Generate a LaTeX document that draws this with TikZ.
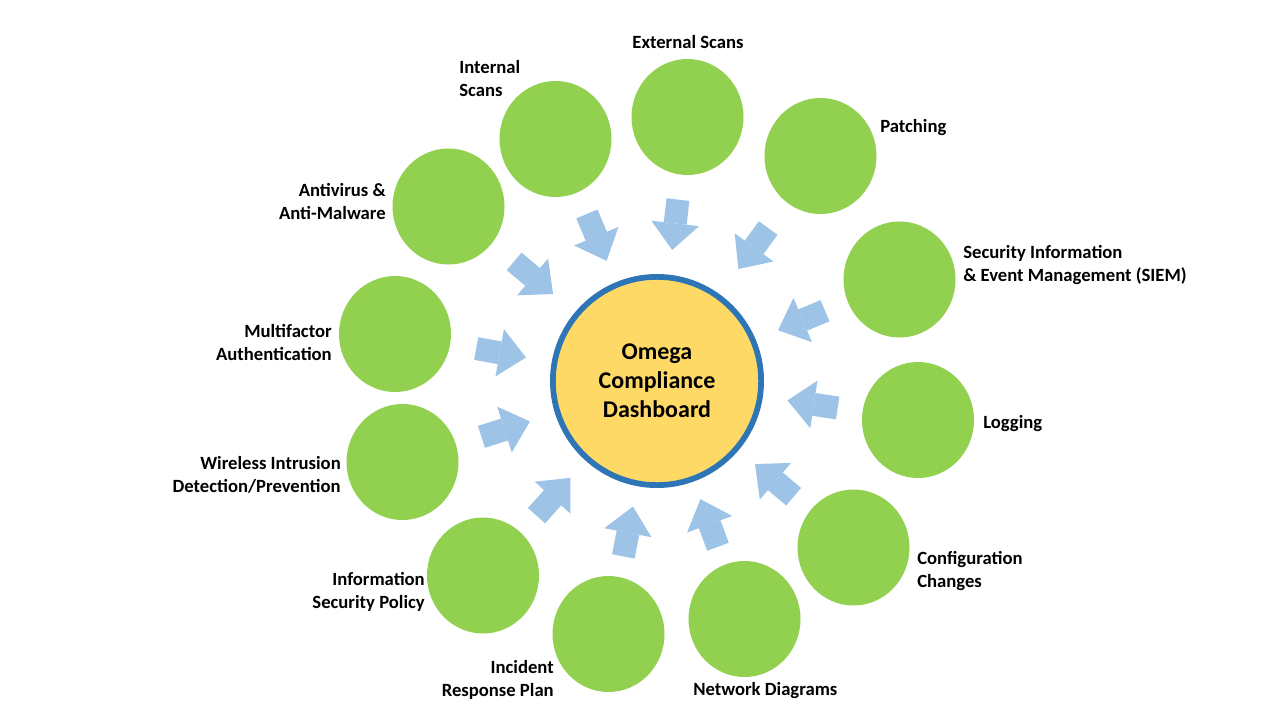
\documentclass[tikz,border=0pt]{standalone}
\usepackage{fontspec}
\setmainfont{Carlito}
\usetikzlibrary{positioning,arrows.meta,shapes.geometric}

\definecolor{leafgreen}{HTML}{92D050}
\definecolor{hubyellow}{HTML}{FFD966}
\definecolor{hubblue}{HTML}{2E75B6}
\definecolor{feedblue}{HTML}{9DC3E6}

\begin{document}
\begin{tikzpicture}[
    x=0.75pt, y=-0.75pt,
    leaf/.style={ellipse, fill=leafgreen, minimum width=84pt, minimum height=87pt, inner sep=0pt},
    hubdisc/.style={circle, draw=hubblue, line width=4.3pt, fill=hubyellow, minimum size=156.2pt, inner sep=0pt, align=center, font=\fontsize{18}{21.75}\selectfont\bfseries},
    lbl/.style={font=\fontsize{14}{17.25}\selectfont\bfseries, inner sep=0pt},
    feed/.style={-{Triangle[width=36pt, length=20pt, line width=0pt]}, line width=17.25pt, draw=feedblue}
]
\fill[white] (0,0) rectangle (1280,720);
\useasboundingbox (0,0) rectangle (1280,720);

\node[hubdisc] (hub) at (657,381) {Omega\\Compliance\\Dashboard};

\node[leaf] (ext) at (687.5,117) {};
\node[leaf] (patch) at (820.5,156) {};
\node[leaf] (siem) at (899.5,279.5) {};
\node[leaf] (log) at (918,420) {};
\node[leaf] (config) at (853.5,547.5) {};
\node[leaf] (net) at (744.5,619) {};
\node[leaf] (incident) at (608.5,634) {};
\node[leaf] (policy) at (483,575.5) {};
\node[leaf] (wids) at (402.5,462) {};
\node[leaf] (mfa) at (395,334) {};
\node[leaf] (av) at (448.5,206.5) {};
\node[leaf] (int) at (555.5,139) {};

% labels
\node[lbl] (extlbl) at (688,42) {External Scans};
\node[lbl, anchor=west] (patchlbl) at (880,128) {Patching};
\node[lbl, anchor=west, align=left] (siemlbl) at (963,265) {Security Information\\\& Event Management (SIEM)};
\node[lbl, anchor=west] (loglbl) at (983,424) {Logging};
\node[lbl, anchor=west, align=left] (configlbl) at (917,571) {Configuration\\Changes};
\node[lbl, anchor=west] (netlbl) at (693,691) {Network Diagrams};
\node[lbl, anchor=east, align=right] (incidentlbl) at (554,680) {Incident\\Response Plan};
\node[lbl, anchor=east, align=right] (policylbl) at (425,592) {Information\\Security Policy};
\node[lbl, anchor=east, align=right] (widslbl) at (341,475) {Wireless Intrusion\\Detection/Prevention};
\node[lbl, anchor=east, align=right] (mfalbl) at (332,343) {Multifactor\\Authentication};
\node[lbl, anchor=east, align=right] (avlbl) at (386,202) {Antivirus \&\\Anti-Malware};
\node[lbl, anchor=west, align=left] (intlbl) at (459,79) {Internal\\Scans};

% arrows into the dashboard
\draw[feed, shorten <=18.7pt, shorten >=18.7pt] (ext) -- (hub);
\draw[feed, shorten <=23.6pt, shorten >=23.6pt] (patch) -- (hub);
\draw[feed, shorten <=18.2pt, shorten >=18.2pt] (siem) -- (hub);
\draw[feed, shorten <=18.7pt, shorten >=18.7pt] (log) -- (hub);
\draw[feed, shorten <=16.1pt, shorten >=16.1pt] (config) -- (hub);
\draw[feed, shorten <=14.2pt, shorten >=14.2pt] (net) -- (hub);
\draw[feed, shorten <=15.6pt, shorten >=15.6pt] (incident) -- (hub);
\draw[feed, shorten <=17.2pt, shorten >=17.2pt] (policy) -- (hub);
\draw[feed, shorten <=19.8pt, shorten >=19.8pt] (wids) -- (hub);
\draw[feed, shorten <=19.6pt, shorten >=19.6pt] (mfa) -- (hub);
\draw[feed, shorten <=21.4pt, shorten >=21.4pt] (av) -- (hub);
\draw[feed, shorten <=17.5pt, shorten >=17.5pt] (int) -- (hub);
\end{tikzpicture}
\end{document}
